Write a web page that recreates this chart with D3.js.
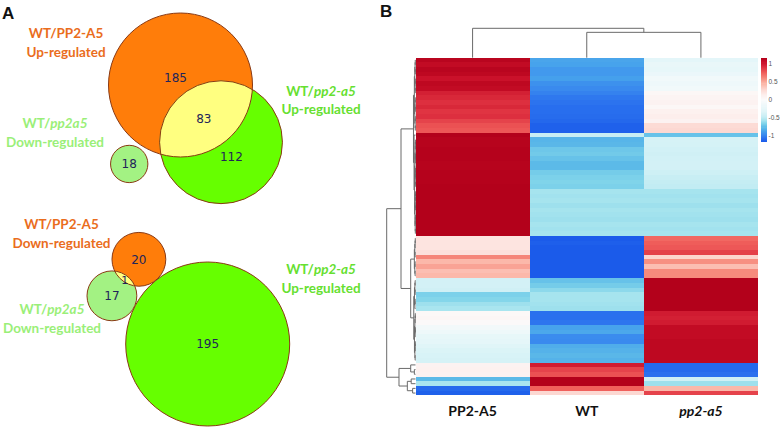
<!DOCTYPE html>
<html><head><meta charset="utf-8">
<script src="https://cdn.jsdelivr.net/npm/d3@7"></script>
<style>body{margin:0;background:#fff}svg{display:block}</style>
</head><body><svg id="c" width="780" height="427"></svg>
<script>
// ---------------- DATA ----------------
// Panel A, top Venn: sets and counts
const vennTopSets = ["WT/PP2-A5|Up-regulated", "WT/_pp2-a5_|Up-regulated", "WT/_pp2a5_|Down-regulated"];
const vennTopOnly = [185, 112, 18];
const vennTopOverlap = 83;           // between set 0 and set 1
// Panel A, bottom Venn
const vennBottomSets = ["WT/PP2-A5|Down-regulated", "WT/_pp2a5_|Down-regulated", "WT/_pp2-a5_|Up-regulated"];
const vennBottomOnly = [20, 17, 195];
const vennBottomOverlap = 1;         // between set 0 and set 1

// Panel B heatmap (row z-scores)
const columns = ["PP2-A5", "WT", "pp2-a5"];
const valuesPP2A5 = [
  1.12,1.08,1.12,1.10,1.04,1.10,1.08,0.98,0.95,0.92,0.95,0.90,0.92,0.85,0.80,0.78,
  1.15,
  1.13,1.13,1.14,1.14,1.14,1.13,1.13,1.14,1.14,1.14,1.15,1.15,1.15,1.15,1.15,1.15,1.15,1.15,1.15,1.15,1.15,
  0.22,0.22,0.22,0.25,0.62,0.45,0.52,0.42,0.45,
  -0.38,-0.38,-0.40,-0.66,-0.64,-0.58,-0.55,0.04,0.06,0.02,-0.10,-0.15,-0.22,-0.25,-0.30,-0.33,-0.35,-0.36,
  0.10,0.12,0.10,-0.75,-0.55,-1.08,-1.12
];
const valuesWT = [
  -0.83,-0.84,-0.88,-0.88,-0.85,-0.92,-0.95,-0.98,-1.02,-1.04,-1.06,-1.06,-1.07,-1.09,-1.12,-1.12,
  -0.45,
  -0.77,-0.76,-0.70,-0.69,-0.72,-0.75,-0.75,-0.68,-0.66,-0.65,-0.66,-0.56,-0.57,-0.56,-0.58,-0.56,-0.57,-0.58,-0.56,-0.57,-0.56,
  -1.15,-1.13,-1.15,-1.15,-1.15,-1.15,-1.15,-1.15,-1.15,
  -0.72,-0.68,-0.62,-0.56,-0.56,-0.57,-0.58,-1.05,-1.05,-1.03,-0.84,-0.82,-0.94,-0.95,-0.80,-0.78,-0.76,-0.78,
  1.00,0.85,0.80,1.15,1.15,0.75,0.30
];
const valuesPp2a5 = [
  -0.26,-0.20,-0.22,-0.18,-0.12,-0.15,-0.12,0.05,0.08,0.10,0.05,0.12,0.15,0.10,0.28,0.30,
  -0.72,
  -0.36,-0.37,-0.39,-0.40,-0.39,-0.38,-0.38,-0.41,-0.45,-0.46,-0.47,-0.56,-0.57,-0.56,-0.58,-0.56,-0.57,-0.58,-0.56,-0.57,-0.56,
  0.72,0.76,0.78,0.86,0.32,0.58,0.42,0.60,0.60,
  1.15,1.15,1.15,1.15,1.15,1.15,1.15,1.00,0.98,1.00,1.08,1.08,1.08,1.10,1.10,1.10,1.10,1.10,
  -1.08,-1.08,-1.05,-0.40,-0.58,0.45,0.85
];
const legendTicks = [1, 0.5, 0, -0.5, -1];
const zMax = 1.1547;

// Column dendrogram (merge heights)
const colTree = {h: 3.2, children: [{leaf: 0}, {h: 2.76, children: [{leaf: 1}, {leaf: 2}]}]};
// Row dendrogram: internal merge heights; [a,b] = contiguous row block (tight sub-cluster)
const rowTree = {h: 3.0, children: [
  {h: 1.51, children: [
    {h: 0.21, children: [[0, 15], {h: 0.15, children: [[16, 16], [17, 37]]}]},
    {h: 0.50, children: [[38, 46], {h: 0.18, children: [[47, 53], [54, 64]]}]}
  ]},
  {h: 1.72, children: [
    {h: 0.50, children: [[65, 65], [66, 67]]},
    {h: 0.85, children: [{h: 0.45, children: [[68, 68], [69, 69]]}, {h: 0.30, children: [[70, 70], [71, 71]]}]}
  ]}
]};

// ---------------- DRAW ----------------
const svg = d3.select("#c");
const FONT = "Lato, 'Open Sans', sans-serif";

function richText(sel, str) {
  str.split("_").forEach((part, i) => {
    if (!part) return;
    sel.append("tspan").text(part).attr("font-style", i % 2 ? "italic" : "normal");
  });
}

function lensArea(r1, r2, d) {
  if (d >= r1 + r2) return 0;
  if (d <= Math.abs(r1 - r2)) return Math.PI * Math.min(r1, r2) ** 2;
  const a = r1 * r1 * Math.acos((d * d + r1 * r1 - r2 * r2) / (2 * d * r1));
  const b = r2 * r2 * Math.acos((d * d + r2 * r2 - r1 * r1) / (2 * d * r2));
  const c = 0.5 * Math.sqrt((-d + r1 + r2) * (d + r1 - r2) * (d - r1 + r2) * (d + r1 + r2));
  return a + b - c;
}
function solveD(r1, r2, target) {
  let lo = Math.abs(r1 - r2), hi = r1 + r2;
  for (let i = 0; i < 80; i++) {
    const m = (lo + hi) / 2;
    if (lensArea(r1, r2, m) > target) lo = m; else hi = m;
  }
  return (lo + hi) / 2;
}

const C = {orange: "#ff7d0a", green: "#66ff00", light: "#a3f283", yellow: "#ffff80", stroke: "#8a3a14",
           tOrange: "#ea6d1d", tLight: "#9aef78", tGreen: "#66e030", num: "#22245a"};

function circ(g, c, r, fill, stroke) {
  return g.append("circle").attr("cx", c[0]).attr("cy", c[1]).attr("r", r)
    .attr("fill", fill).attr("stroke", stroke || "none").attr("stroke-width", 1);
}
function num(g, p, v) {
  g.append("text").attr("x", p[0]).attr("y", p[1]).attr("dy", "0.36em").attr("text-anchor", "middle")
    .attr("font-family", "'DejaVu Sans', Verdana, sans-serif").attr("font-size", 12).attr("fill", C.num).text(v);
}
function label(g, str, x, y, color) {
  const [l1, l2] = str.split("|");
  const t1 = g.append("text").attr("x", x).attr("y", y).attr("text-anchor", "middle")
    .attr("font-family", FONT).attr("font-weight", "bold").attr("font-size", 13.5).attr("fill", color);
  richText(t1, l1);
  g.append("text").attr("x", x).attr("y", y + 18.5).attr("text-anchor", "middle")
    .attr("font-family", FONT).attr("font-weight", "bold").attr("font-size", 13.5).attr("fill", color).text(l2);
}
const defs = svg.append("defs");

// ---- Top Venn ----
{
  const g = svg.append("g");
  const totals = [vennTopOnly[0] + vennTopOverlap, vennTopOnly[1] + vennTopOverlap, vennTopOnly[2]];
  const s = d3.scaleSqrt().domain([0, d3.max(totals)]).range([0, 72]);
  const r = totals.map(s);
  const c0 = [180.5, 85];
  const ang = 54.7 * Math.PI / 180;
  const u = [Math.cos(ang), Math.sin(ang)];
  const d = solveD(r[0], r[1], Math.PI * s(vennTopOverlap) ** 2);
  const c1 = [c0[0] + d * u[0], c0[1] + d * u[1]];
  const a2 = 123 * Math.PI / 180;
  const c2 = [c0[0] + (r[0] + r[2] + 3.5) * Math.cos(a2), c0[1] + (r[0] + r[2] + 3.5) * Math.sin(a2)];
  circ(g, c0, r[0], C.orange);
  circ(g, c1, r[1], C.green);
  defs.append("clipPath").attr("id", "clipTop").append("circle").attr("cx", c0[0]).attr("cy", c0[1]).attr("r", r[0]);
  circ(g, c1, r[1], C.yellow).attr("clip-path", "url(#clipTop)");
  circ(g, c0, r[0], "none", C.stroke);
  circ(g, c1, r[1], "none", C.stroke);
  circ(g, c2, r[2], C.light, C.stroke);
  num(g, [c0[0] - 8.6 * u[0], c0[1] - 8.6 * u[1]], vennTopOnly[0]);
  const e0 = [c0[0] + r[0] * u[0], c0[1] + r[0] * u[1]], e1 = [c1[0] - r[1] * u[0], c1[1] - r[1] * u[1]];
  num(g, [(e0[0] + e1[0]) / 2, (e0[1] + e1[1]) / 2 + 1], vennTopOverlap);
  num(g, [c1[0] + 18 * u[0], c1[1] + 18 * u[1]], vennTopOnly[1]);
  num(g, c2, vennTopOnly[2]);
  label(g, vennTopSets[0], 66, 38.3, C.tOrange);
  label(g, vennTopSets[1], 321, 95.7, C.tGreen);
  label(g, vennTopSets[2], 55, 128.3, C.tLight);
}
// ---- Bottom Venn ----
{
  const g = svg.append("g");
  const totals = [vennBottomOnly[0] + vennBottomOverlap, vennBottomOnly[1] + vennBottomOverlap, vennBottomOnly[2]];
  const s = d3.scaleSqrt().domain([0, d3.max(totals)]).range([0, 82]);
  const r = totals.map(s);
  const cg = [207.7, 344];
  const ang = -129.1 * Math.PI / 180;
  const c0 = [cg[0] + (r[2] + r[0] + 0.2) * Math.cos(ang), cg[1] + (r[2] + r[0] + 0.2) * Math.sin(ang)];
  const d01 = solveD(r[0], r[1], Math.PI * s(vennBottomOverlap) ** 2);
  // circle-circle intersection for c1: |c1-cg| = R + r1, |c1-c0| = d01
  const R1 = r[2] + r[1] + 0.3;
  const D = Math.hypot(c0[0] - cg[0], c0[1] - cg[1]);
  const a = (R1 * R1 - d01 * d01 + D * D) / (2 * D);
  const h = Math.sqrt(Math.max(0, R1 * R1 - a * a));
  const ex = [(c0[0] - cg[0]) / D, (c0[1] - cg[1]) / D];
  const pm = [cg[0] + a * ex[0], cg[1] + a * ex[1]];
  const cands = [[pm[0] + h * ex[1], pm[1] - h * ex[0]], [pm[0] - h * ex[1], pm[1] + h * ex[0]]];
  const c1 = cands.sort((p, q) => p[0] - q[0])[0];
  circ(g, cg, r[2], C.green, C.stroke);
  circ(g, c0, r[0], C.orange);
  circ(g, c1, r[1], C.light);
  defs.append("clipPath").attr("id", "clipBot").append("circle").attr("cx", c0[0]).attr("cy", c0[1]).attr("r", r[0]);
  circ(g, c1, r[1], C.yellow).attr("clip-path", "url(#clipBot)");
  circ(g, c0, r[0], "none", C.stroke);
  circ(g, c1, r[1], "none", C.stroke);
  num(g, c0, vennBottomOnly[0]);
  num(g, c1, vennBottomOnly[1]);
  num(g, cg, vennBottomOnly[2]);
  const v = [(c1[0] - c0[0]) / d01, (c1[1] - c0[1]) / d01];
  const e0 = [c0[0] + r[0] * v[0], c0[1] + r[0] * v[1]], e1 = [c1[0] - r[1] * v[0], c1[1] - r[1] * v[1]];
  g.append("text").attr("x", (e0[0] + e1[0]) / 2).attr("y", (e0[1] + e1[1]) / 2 + 1.5).attr("dy", "0.36em")
    .attr("text-anchor", "middle").attr("font-family", "'DejaVu Sans', sans-serif").attr("font-size", 11)
    .attr("fill", C.num).text(vennBottomOverlap);
  label(g, vennBottomSets[0], 61.5, 229.3, C.tOrange);
  label(g, vennBottomSets[1], 52, 314.3, C.tLight);
  label(g, vennBottomSets[2], 321, 274, C.tGreen);
}

// ---- Heatmap ----
const nRows = valuesPP2A5.length;
const matrix = d3.range(nRows).map(i => [valuesPP2A5[i], valuesWT[i], valuesPp2a5[i]]);
const x = d3.scaleBand().domain(columns).range([415.5, 758]);
const y = d3.scaleBand().domain(d3.range(nRows)).range([57.7, 395.4]);
const color = d3.scaleLinear()
  .domain([-1.155, -1.05, -0.95, -0.85, -0.75, -0.65, -0.56, -0.45, -0.3, -0.15, 0, 0.15, 0.3, 0.45, 0.6, 0.75, 0.9, 1.05, 1.155])
  .range(["#1a5aea", "#2a70ee", "#3a8aee", "#45a0ec", "#5cbae8", "#80d4ea", "#a6e4ee", "#c8eef4", "#e0f5f8", "#eef8fa",
          "#fbfbfb", "#fdeeec", "#fcd8d2", "#fbb8aa", "#f68a7c", "#f0605c", "#e03442", "#c80f28", "#b2001a"])
  .clamp(true);

const hm = svg.append("g").attr("shape-rendering", "crispEdges");
matrix.forEach((row, i) => {
  row.forEach((v, j) => {
    hm.append("rect").attr("x", x(columns[j])).attr("y", y(i)).attr("width", x.bandwidth() + (j < 2 ? 0.6 : 0))
      .attr("height", y.bandwidth() + (i < nRows - 1 ? 0.6 : 0)).attr("fill", color(v));
  });
});
svg.append("g").selectAll("text.col").data(columns).join("text").attr("class", "col")
  .attr("x", dd => x(dd) + x.bandwidth() / 2).attr("y", 416).attr("text-anchor", "middle")
  .attr("font-family", FONT).attr("font-weight", "bold").attr("font-size", 14).attr("fill", "#111")
  .attr("font-style", dd => dd === dd.toLowerCase() ? "italic" : "normal").text(dd => dd);

// ---- Column dendrogram ----
const yh = d3.scaleLinear().domain([0, 3.2]).range([57.7, 28.3]);
const dg = svg.append("g").attr("stroke", "#6a6a6a").attr("stroke-width", 1).attr("fill", "none");
function layoutCol(n) {
  if (n.leaf !== undefined) { n.px = x(columns[n.leaf]) + x.bandwidth() / 2; n.py = yh(0); return n; }
  n.children.forEach(layoutCol);
  n.px = d3.mean(n.children, c => c.px); n.py = yh(n.h);
  dg.append("line").attr("x1", n.children[0].px).attr("x2", n.children[1].px).attr("y1", n.py).attr("y2", n.py);
  n.children.forEach(c => dg.append("line").attr("x1", c.px).attr("x2", c.px).attr("y1", n.py).attr("y2", c.py));
  return n;
}
layoutCol(colTree);

// ---- Row dendrogram ----
const xh = d3.scaleLinear().domain([0, 3]).range([415.5, 386.7]);
function expand(n, hmax) {
  if (Array.isArray(n)) {
    const [a, b] = n;
    if (a === b) return {leaf: a};
    const m = Math.floor((a + b) / 2);
    return {h: hmax, children: [expand([a, m], hmax * 0.6), expand([m + 1, b], hmax * 0.6)]};
  }
  if (n.leaf !== undefined) return n;
  return {h: n.h, children: n.children.map(c => expand(c, Math.min(0.12, n.h * 0.6)))};
}
function layoutRow(n) {
  if (n.leaf !== undefined) { n.py = y(n.leaf) + y.bandwidth() / 2; n.px = xh(0); return n; }
  n.children.forEach(layoutRow);
  n.py = d3.mean(n.children, c => c.py); n.px = xh(n.h);
  dg.append("line").attr("x1", n.px).attr("x2", n.px).attr("y1", n.children[0].py).attr("y2", n.children[1].py);
  n.children.forEach(c => dg.append("line").attr("x1", n.px).attr("x2", c.px).attr("y1", c.py).attr("y2", c.py));
  return n;
}
layoutRow(expand(rowTree, 0.12));

// ---- Colour legend ----
const ly = d3.scaleLinear().domain([-zMax, zMax]).range([141.6, 57.7]);
const lg = svg.append("g");
const steps = d3.range(0, 80);
lg.append("g").attr("shape-rendering", "crispEdges").selectAll("rect").data(steps).join("rect")
  .attr("x", 761).attr("width", 5.7)
  .attr("y", k => ly(-zMax + (k + 1) * 2 * zMax / 80))
  .attr("height", (ly(-zMax) - ly(zMax)) / 80 + 0.6)
  .attr("fill", k => color(-zMax + (k + 0.5) * 2 * zMax / 80));
lg.selectAll("text").data(legendTicks).join("text")
  .attr("x", 768.5).attr("y", t => ly(t)).attr("dy", "0.35em")
  .attr("font-family", "'Liberation Sans', Arial, sans-serif").attr("font-size", 6.5).attr("fill", "#555")
  .text(t => String(t));

// ---- Panel letters ----
svg.append("text").attr("x", 2).attr("y", 18.5).attr("font-family", "'Liberation Sans', Arial, sans-serif")
  .attr("font-weight", "bold").attr("font-size", 17).attr("fill", "#111").text("A");
svg.append("text").attr("x", 380).attr("y", 17).attr("font-family", "'Liberation Sans', Arial, sans-serif")
  .attr("font-weight", "bold").attr("font-size", 17).attr("fill", "#111").text("B");
</script></body></html>
